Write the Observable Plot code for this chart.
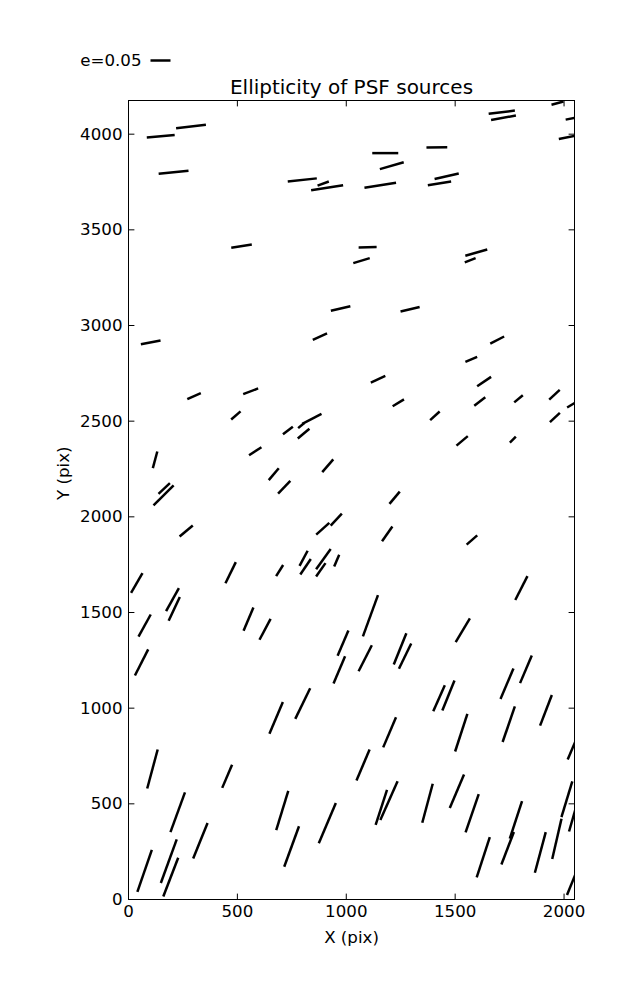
<!DOCTYPE html>
<html>
<head>
<meta charset="utf-8">
<script src="https://cdn.jsdelivr.net/npm/d3@7"></script>
<script src="https://cdn.jsdelivr.net/npm/@observablehq/plot@0.6"></script>
<style>
  html, body { margin: 0; padding: 0; background: #fff; }
  #chart { width: 637px; height: 1000px; }
</style>
</head>
<body>
<div id="chart"></div>
<script>
// ---- data ----
const titleText = "Ellipticity of PSF sources";
const xLabel = "X (pix)";
const yLabel = "Y (pix)";
const legendE = 0.05;
const xTicks = [0, 500, 1000, 1500, 2000];
const yTicks = [0, 500, 1000, 1500, 2000, 2500, 3000, 3500, 4000];
const xDomain = [0, 2048];
const yDomain = [0, 4176];

// source positions (pix), ellipticity, position angle (deg, ccw from +X)
const srcX = [148, 287, 207, 798, 894, 912, 519, 1070, 1714, 1722, 1970, 2048, 2039, 1179, 1209, 1156, 1416, 1461, 1428, 1098, 1597, 1569,
  974, 102, 879, 301, 561, 493, 732, 793, 842, 804, 582, 122, 667, 915, 715, 164, 161, 1293, 1693, 1574, 1146, 1633, 1239, 1613, 1791, 1956, 2044, 1407, 1958, 1532, 1765, 1222,
  265, 892, 954, 38, 469, 694, 804, 813, 895, 883, 956, 202, 210, 74, 551, 627, 60, 985, 968, 800, 1188, 1577, 1804, 1111, 1535, 1087, 1247, 1270, 1825, 1738, 1426, 1469, 1917,
  678, 110, 453, 226, 706, 913, 330, 749, 74, 185, 194, 1199, 1528, 1746, 2044, 1077, 1508, 1161, 1196, 1373, 1578, 1779, 1741, 1629, 1891, 1967, 2013, 2048, 2048];
const srcY = [3989, 4040, 3801, 3761, 3742, 3720, 3415, 3339, 4115, 4086, 4162, 4085, 3989, 3901, 3835, 3733, 3931, 3780, 3743, 3409, 3381, 3341,
  3089, 2912, 2942, 2631, 2656, 2530, 2451, 2477, 2512, 2435, 2343, 2298, 2223, 2267, 2155, 2148, 2112, 3085, 2924, 2823, 2719, 2707, 2596, 2603, 2617, 2638, 2592, 2528, 2519, 2397, 2404, 2100,
  1926, 1938, 1985, 1654, 1708, 1719, 1783, 1739, 1779, 1723, 1771, 1567, 1519, 1432, 1465, 1412, 1239, 1340, 1200, 1024, 1911, 1879, 1628, 1483, 1407, 1261, 1310, 1272, 1203, 1128, 1052, 1066, 989,
  949, 682, 644, 456, 465, 399, 307, 277, 150, 200, 117, 874, 872, 916, 805, 703, 566, 482, 517, 503, 451, 416, 268, 221, 246, 317, 524, 455, 120];
const ellip = [0.070, 0.075, 0.075, 0.073, 0.030, 0.081, 0.052, 0.043, 0.066, 0.063, 0.031, 0.045, 0.070, 0.065, 0.062, 0.080, 0.052, 0.062, 0.059, 0.045, 0.057, 0.029,
  0.050, 0.050, 0.039, 0.037, 0.040, 0.031, 0.031, 0.020, 0.054, 0.038, 0.037, 0.043, 0.039, 0.042, 0.044, 0.039, 0.071, 0.049, 0.039, 0.032, 0.040, 0.042, 0.033, 0.035, 0.028, 0.036, 0.038, 0.032, 0.034, 0.037, 0.021, 0.040,
  0.043, 0.044, 0.041, 0.057, 0.059, 0.033, 0.043, 0.047, 0.062, 0.041, 0.032, 0.066, 0.066, 0.063, 0.063, 0.059, 0.073, 0.069, 0.074, 0.085, 0.045, 0.035, 0.067, 0.110, 0.069, 0.073, 0.084, 0.070, 0.075, 0.083, 0.071, 0.081, 0.082,
  0.086, 0.101, 0.063, 0.106, 0.103, 0.109, 0.096, 0.108, 0.111, 0.116, 0.104, 0.082, 0.099, 0.094, 0.076, 0.084, 0.091, 0.092, 0.106, 0.101, 0.101, 0.099, 0.087, 0.106, 0.105, 0.103, 0.093, 0.099, 0.100];
const angle = [5, 7, 6, 6, 20, 9, 9, 17, 7, 10, 15, 11, 11, 0, 16, 9, 1, 13, 9, 1, 16, 21,
  13, 11, 24, 24, 21, 41, 37, 40, 27, 40, 33, 75, 50, 49, 46, 43, 45, 13, 27, 23, 25, 34, 31, 38, 40, 43, 31, 42, 43, 40, 45, 50,
  40, 42, 47, 60, 64, 58, 62, 56, 54, 55, 67, 61, 65, 61, 67, 62, 63, 67, 67, 64, 55, 41, 63, 70, 59, 63, 68, 64, 67, 67, 66, 68, 69,
  67, 75, 67, 70, 73, 67, 68, 70, 71, 70, 69, 67, 72, 71, 67, 67, 67, 72, 66, 75, 71, 72, 69, 72, 75, 77, 73, 74, 68];

// table built from the arrays
const sources = srcX.map((x, i) => ({x, y: srcY[i], e: ellip[i], theta: angle[i]}));

// headless whisker shape (a plain line)
const stick = {draw(ctx, l) { ctx.moveTo(0, 0); ctx.lineTo(0, -l); }};
const font = "DejaVu Sans";
const fs = 16.67;
const tickLen = 5.5;
const plain = d => String(d);

const chart = Plot.plot({
  width: 637,
  height: 1000,
  marginTop: 100,
  marginLeft: 128,
  marginRight: 63,
  marginBottom: 101,
  style: {fontFamily: font, fontSize: fs + "px", background: "#fff", color: "#000"},
  x: {domain: xDomain},
  y: {domain: yDomain},
  length: {type: "linear", domain: [0, legendE], range: [0, 20]},
  marks: [
    // whiskers
    Plot.vector(sources, {
      x: "x", y: "y", length: "e", rotate: d => 90 - d.theta,
      anchor: "middle", shape: stick, stroke: "#000", strokeWidth: 2.5,
      strokeLinecap: "butt", clip: true
    }),
    // inward ticks on all four sides
    Plot.vector(xTicks, {x: d => d, frameAnchor: "bottom", length: tickLen, rotate: 0, anchor: "start", shape: stick, stroke: "#000", strokeWidth: 1}),
    Plot.vector(xTicks, {x: d => d, frameAnchor: "top", length: tickLen, rotate: 180, anchor: "start", shape: stick, stroke: "#000", strokeWidth: 1}),
    Plot.vector(yTicks, {y: d => d, frameAnchor: "left", length: tickLen, rotate: 90, anchor: "start", shape: stick, stroke: "#000", strokeWidth: 1}),
    Plot.vector(yTicks, {y: d => d, frameAnchor: "right", length: tickLen, rotate: -90, anchor: "start", shape: stick, stroke: "#000", strokeWidth: 1}),
    Plot.frame({stroke: "#000", strokeWidth: 1}),
    // tick labels
    Plot.axisX(xTicks, {tickSize: 0, tickPadding: 6, tickFormat: plain, label: null, fontSize: fs, fill: "#000"}),
    Plot.axisY(yTicks, {tickSize: 0, tickPadding: 6, tickFormat: plain, label: null, fontSize: fs, fill: "#000"}),
    // axis titles
    Plot.text([xLabel], {frameAnchor: "bottom", dy: 38, lineAnchor: "middle", fontSize: fs, fill: "#000"}),
    Plot.text([yLabel], {frameAnchor: "left", dx: -65, rotate: -90, lineAnchor: "middle", fontSize: fs, fill: "#000"}),
    // title
    Plot.text([titleText], {frameAnchor: "top", dy: -13, lineAnchor: "middle", fontSize: 20, fill: "#000"}),
    // legend (quiver key)
    Plot.text([`e=${legendE}`], {frameAnchor: "top-left", dx: 13, dy: -40, textAnchor: "end", lineAnchor: "middle", fontSize: fs, fill: "#000"}),
    Plot.vector([{e: legendE}], {length: "e", frameAnchor: "top-left", rotate: 90, anchor: "start", dx: 22, dy: -40, shape: stick, stroke: "#000", strokeWidth: 2.5, strokeLinecap: "butt"})
  ]
});
document.getElementById("chart").appendChild(chart);
</script>
</body>
</html>
